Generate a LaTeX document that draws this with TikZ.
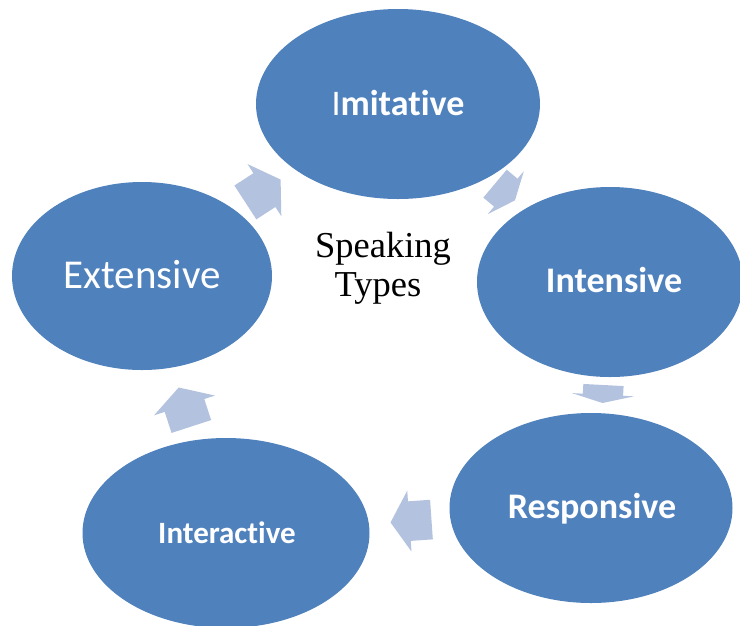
\documentclass[tikz,border=0pt]{standalone}
\usepackage{fontspec}
\setmainfont{Carlito}[RawFeature={-liga;-clig}]
\newfontfamily\timesf{Liberation Serif}
\usetikzlibrary{shapes.geometric}
\definecolor{ellblue}{HTML}{4F81BD}
\definecolor{arrblue}{HTML}{B3C2DE}
\newcommand\blockarrow[5]{% cx, cy, angle, L, H
  \fill[arrblue, shift={(#1,#2)}, rotate=#3]
    ({-#4/2},{-0.325*#5}) -- ({#4/2-0.46*#4},{-0.325*#5}) -- ({#4/2-0.46*#4},{-#5/2})
    -- ({#4/2},0) -- ({#4/2-0.46*#4},{#5/2}) -- ({#4/2-0.46*#4},{0.325*#5})
    -- ({-#4/2},{0.325*#5}) -- cycle;}
\begin{document}
\begin{tikzpicture}[x=1pt,y=-1pt,
  bubble/.style={ellipse, fill=ellblue, draw=none, inner sep=0pt},
  lbl/.style={text=white, font=\bfseries\fontsize{36}{40}\selectfont, anchor=base, inner sep=0pt},
  centre/.style={font=\timesf\fontsize{36.5}{39}\selectfont, align=center, inner sep=0pt, anchor=base}]
\useasboundingbox (0,0) rectangle (740,625);
\clip (0,0) rectangle (740,625);
\fill[white] (0,0) rectangle (740,625);
% ellipses
\node[bubble, minimum width=284pt, minimum height=190pt] (imi) at (398,104) {};
\node[bubble, minimum width=266pt, minimum height=190pt] (int) at (610,282) {};
\node[bubble, minimum width=283pt, minimum height=190pt] (res) at (591,508) {};
\node[bubble, minimum width=287pt, minimum height=190pt] (inter) at (226,533) {};
\node[bubble, minimum width=260pt, minimum height=188pt] (ext) at (142,276) {};
% labels
\node[lbl] (timi) at (398,115) {{\mdseries I}mitative};
\node[lbl] (tint) at (614,292) {Intensive};
\node[lbl] (tres) at (592,518) {Responsive};
\node[lbl, font=\bfseries\fontsize{31}{35}\selectfont] (tinter) at (227,543) {Interactive};
\node[lbl, font=\mdseries\fontsize{41}{45}\selectfont] (text) at (142,288) {Extensive};
% centre text
\node[centre] (sp) at (383,257) {Speaking};
\node[centre] (ty) at (378,296) {Types};
% arrows
\blockarrow{263}{191}{33}{42}{62}
\blockarrow{505}{192}{-40}{26}{56}
\blockarrow{603}{394}{-93}{18}{62}
\blockarrow{411}{521}{184}{41}{61}
\blockarrow{185}{407}{108}{41}{64}
\end{tikzpicture}
\end{document}
